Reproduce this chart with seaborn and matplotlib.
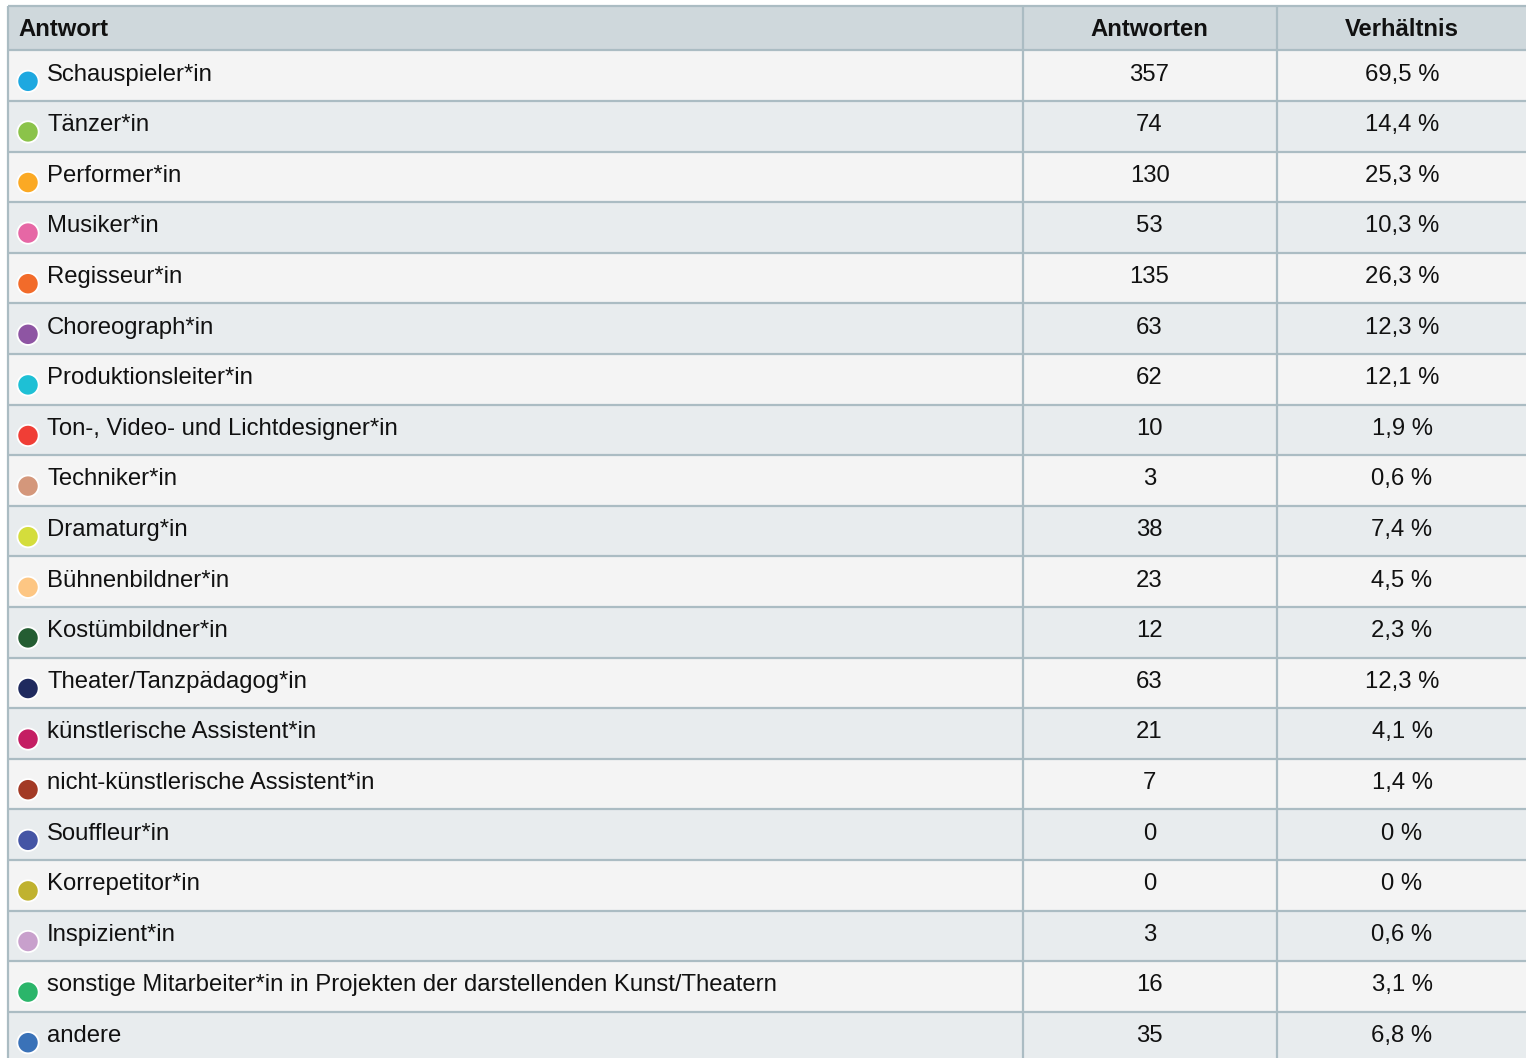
import matplotlib
matplotlib.use("Agg")
import matplotlib.pyplot as plt
import seaborn as sns
import pandas as pd

answers = [
    "Schauspieler*in", "Tänzer*in", "Performer*in", "Musiker*in", "Regisseur*in",
    "Choreograph*in", "Produktionsleiter*in", "Ton-, Video- und Lichtdesigner*in",
    "Techniker*in", "Dramaturg*in", "Bühnenbildner*in", "Kostümbildner*in",
    "Theater/Tanzpädagog*in", "künstlerische Assistent*in",
    "nicht-künstlerische Assistent*in", "Souffleur*in", "Korrepetitor*in",
    "Inspizient*in",
    "sonstige Mitarbeiter*in in Projekten der darstellenden Kunst/Theatern",
    "andere",
]
counts = [357, 74, 130, 53, 135, 63, 62, 10, 3, 38, 23, 12, 63, 21, 7, 0, 0, 3, 16, 35]
ratios = ["69,5 %", "14,4 %", "25,3 %", "10,3 %", "26,3 %", "12,3 %", "12,1 %",
          "1,9 %", "0,6 %", "7,4 %", "4,5 %", "2,3 %", "12,3 %", "4,1 %", "1,4 %",
          "0 %", "0 %", "0,6 %", "3,1 %", "6,8 %"]
dot_colors = ["#1ea8e0", "#8bc34a", "#fba924", "#e667a5", "#f26b2a", "#8e55a3",
              "#1ec0d5", "#f03e36", "#d4977b", "#d4dd3c", "#fdc683", "#245d32",
              "#1f2a5e", "#c41e63", "#a33a25", "#4555a5", "#c0b22f", "#c8a0cc",
              "#2bb56a", "#3a72b8"]
headers = ["Antwort", "Antworten", "Verhältnis"]

# layout (pixels)
W, H = 1526, 1058
TOP, HEAD_BOT, ROW_H = 6, 50.3, 50.6
LEFT, COL2, COL3, RIGHT = 8, 1022.5, 1276.5, 1530
LINE = "#abbcc3"
HEAD_BG = "#cfd8dc"
ROW_BG = ["#f4f4f4", "#e8ecee"]
FONT = ["Liberation Sans", "DejaVu Sans"]

sns.set_theme(style="white")
plt.rcParams["font.family"] = FONT

fig = plt.figure(figsize=(W / 100, H / 100), dpi=100)
ax = fig.add_axes([0, 0, 1, 1])

n = len(answers)
row_top = [HEAD_BOT + i * ROW_H for i in range(n)]

# backgrounds
ax.fill_between([LEFT, RIGHT], TOP, HEAD_BOT, color=HEAD_BG, lw=0, zorder=0)
for i, t in enumerate(row_top):
    ax.fill_between([LEFT, RIGHT], t, t + ROW_H, color=ROW_BG[i % 2], lw=0, zorder=0)

# grid lines
ys = [TOP, HEAD_BOT] + [t + ROW_H for t in row_top[:-1]]
ax.hlines(ys, LEFT, RIGHT, colors=LINE, lw=1.6, zorder=1)
ax.vlines([LEFT, COL2, COL3], TOP, H + 5, colors=LINE, lw=1.6, zorder=1)

# header
fs = 17.2
hy = (TOP + HEAD_BOT) / 2 + 1.5
ax.text(18, hy, headers[0], fontsize=fs, fontweight="bold",
        ha="left", va="center", color="#111111", zorder=3)
ax.text((COL2 + COL3) / 2, hy, headers[1], fontsize=fs,
        fontweight="bold", ha="center", va="center", color="#111111", zorder=3)
ax.text(1402, hy, headers[2], fontsize=fs,
        fontweight="bold", ha="center", va="center", color="#111111", zorder=3)

# rows text
for i, t in enumerate(row_top):
    yc = t + ROW_H / 2 - 1
    ax.text(47, yc, answers[i], fontsize=fs, ha="left", va="center",
            color="#111111", zorder=3)
    ax.text((COL2 + COL3) / 2, yc, str(counts[i]), fontsize=fs, ha="center",
            va="center", color="#111111", zorder=3)
    ax.text(1402, yc, ratios[i], fontsize=fs, ha="center", va="center",
            color="#111111", zorder=3)

# dots via seaborn
df = pd.DataFrame({
    "answer": answers,
    "x": [28] * n,
    "y": [t + 31 for t in row_top],
})
sns.scatterplot(data=df, x="x", y="y", hue="answer", palette=dict(zip(answers, dot_colors)),
                s=235, edgecolor="white", linewidth=1.3, legend=False, ax=ax, zorder=4)
ax.set_xlim(0, W)
ax.set_ylim(H, 0)
ax.axis("off")

fig.savefig("out.png", dpi=100, facecolor="white")
